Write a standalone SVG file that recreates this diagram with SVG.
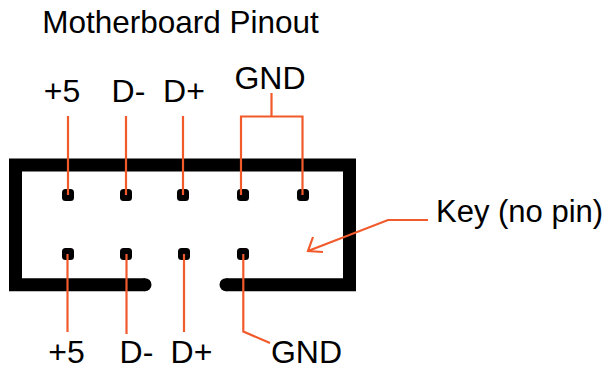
<svg xmlns="http://www.w3.org/2000/svg" width="612" height="370" viewBox="0 0 612 370">
<style>
text{font-family:"Liberation Sans",Arial,sans-serif;font-size:32px;fill:#000}
.c{text-anchor:middle}
.w{fill:none;stroke:#f15a2b;stroke-width:2.2;stroke-linejoin:miter}
.pin{fill:#000}
</style>
<rect width="612" height="370" fill="#fff"/>
<text id="title" x="180.5" y="33" class="c" style="font-size:31.5px">Motherboard Pinout</text>
<g id="header">
<path d="M145,284.7 H15.5 V165 H349.5 V284.7 H226" fill="none" stroke="#000" stroke-width="13"/>
<circle cx="145" cy="284.7" r="6.5"/>
<circle cx="226" cy="284.7" r="6.5"/>
</g>
<g id="pins">
<rect class="pin" x="62" y="189" width="12" height="12" rx="3.5"/>
<rect class="pin" x="120" y="189" width="12" height="12" rx="3.5"/>
<rect class="pin" x="177" y="189" width="12" height="12" rx="3.5"/>
<rect class="pin" x="237" y="189" width="12" height="12" rx="3.5"/>
<rect class="pin" x="297" y="189" width="12" height="12" rx="3.5"/>
<rect class="pin" x="62" y="248" width="12" height="12" rx="3.5"/>
<rect class="pin" x="120" y="248" width="12" height="12" rx="3.5"/>
<rect class="pin" x="178" y="248" width="12" height="12" rx="3.5"/>
<rect class="pin" x="237" y="248" width="12" height="12" rx="3.5"/>
</g>
<g id="connectors">
<path class="w" d="M68,116 V195"/>
<path class="w" d="M126,116 V195"/>
<path class="w" d="M183,116 V195"/>
<path class="w" d="M271.5,93 V116.5 M241,195 V116.5 H302.5 V195"/>
<path class="w" d="M67.5,254 V332"/>
<path class="w" d="M126.5,254 V334"/>
<path class="w" d="M184,254 V332"/>
<path class="w" d="M243.3,254 V331.5 L270,343"/>
<path class="w" d="M428,220 H388 L308,251 M313,237 L308,251 L323,252"/>
</g>
<g id="labels">
<text x="62" y="102" class="c">+5</text>
<text x="128.5" y="102" class="c">D-</text>
<text x="184" y="102" class="c">D+</text>
<text x="270" y="88.5" class="c">GND</text>
<text x="66.5" y="363" class="c">+5</text>
<text x="136.5" y="363" class="c">D-</text>
<text x="191.5" y="363" class="c">D+</text>
<text x="306.5" y="363" class="c">GND</text>
<text x="436" y="222" style="font-size:31px">Key (no pin)</text>
</g>
</svg>
